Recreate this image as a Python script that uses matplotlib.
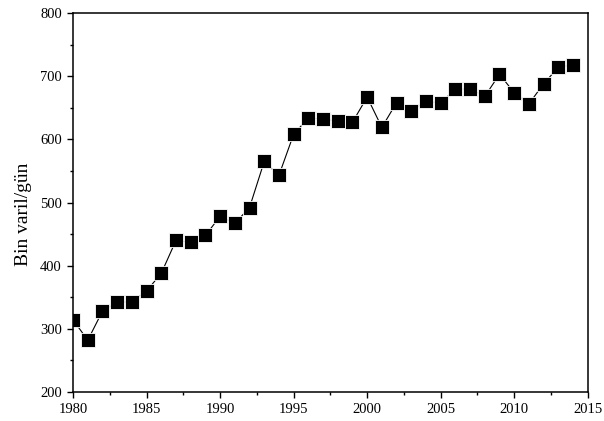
import matplotlib
matplotlib.use("Agg")
import matplotlib.pyplot as plt
from matplotlib.ticker import MultipleLocator

# yillar ve uretim (bin varil/gun)
years = list(range(1980, 2015))
values = [314, 282, 328, 342, 343, 360, 388, 440, 437, 448,
          478, 467, 492, 565, 543, 608, 634, 632, 629, 627,
          667, 619, 658, 645, 660, 658, 679, 680, 668, 703,
          674, 656, 688, 714, 718]

plt.rcParams['font.family'] = ['Liberation Serif', 'DejaVu Serif']

fig = plt.figure(figsize=(6.04, 4.21), dpi=100)
ax = fig.add_axes([0.121, 0.069, 0.852, 0.9])

ax.plot(years, values, color='black', linewidth=0.8, marker='s',
        markersize=9.5, markerfacecolor='black', markeredgecolor='white',
        markeredgewidth=0.6)

ax.set_xlim(1980, 2015)
ax.set_ylim(200, 800)
ax.xaxis.set_major_locator(MultipleLocator(5))
ax.xaxis.set_minor_locator(MultipleLocator(2.5))
ax.yaxis.set_major_locator(MultipleLocator(100))
ax.yaxis.set_minor_locator(MultipleLocator(50))
ax.tick_params(which='both', direction='out', top=False, right=False,
               labelsize=10.5, width=1)
ax.tick_params(which='major', length=4.5)
ax.tick_params(which='minor', length=2.5)
for s in ax.spines.values():
    s.set_linewidth(1.1)

ax.set_ylabel("Bin varil/gün", fontsize=14)
ax.yaxis.set_label_coords(-0.08, 0.47)

fig.savefig("out.png", dpi=100)
